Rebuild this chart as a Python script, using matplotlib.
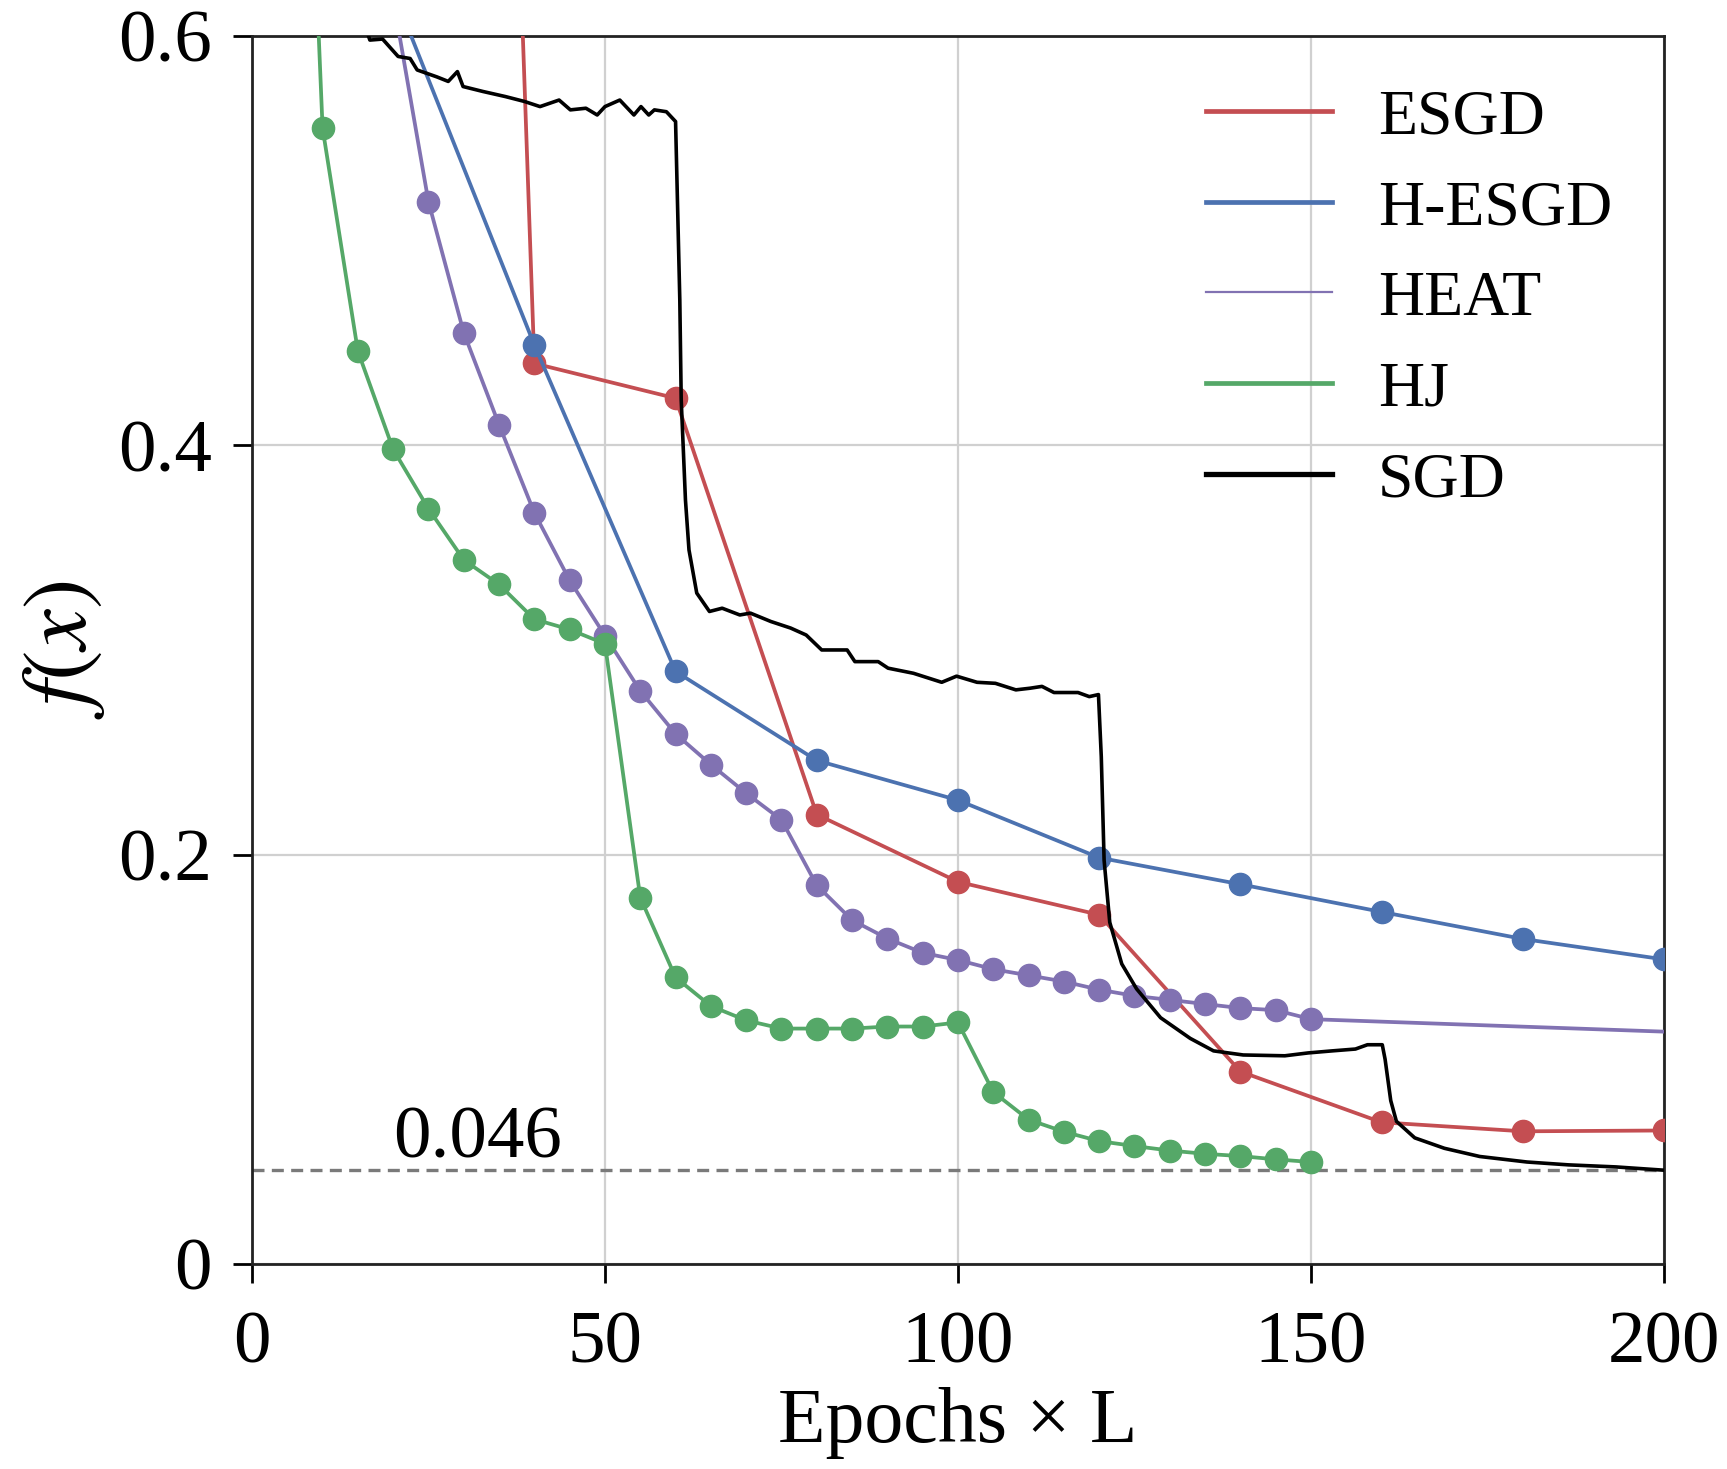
import matplotlib
matplotlib.use("Agg")
import matplotlib.pyplot as plt
from matplotlib.lines import Line2D

# ---- data ----
esgd_x = [20, 40, 60, 80, 100, 120, 140, 160, 180, 200]
esgd_y = [2.40, 0.440, 0.423, 0.2196, 0.1867, 0.1706, 0.0940, 0.0692, 0.0648, 0.0652]

hesgd_x = [20, 40, 60, 80, 100, 120, 140, 160, 180, 200]
hesgd_y = [0.622, 0.449, 0.2895, 0.246, 0.2266, 0.1985, 0.1855, 0.1720, 0.1588, 0.1488]

heat_x = [20, 25, 30, 35, 40, 45, 50, 55, 60, 65, 70, 75, 80, 85, 90, 95, 100,
          105, 110, 115, 120, 125, 130, 135, 140, 145, 150, 200]
heat_y = [0.618, 0.519, 0.455, 0.410, 0.367, 0.334, 0.307, 0.280, 0.259, 0.244,
          0.230, 0.217, 0.185, 0.168, 0.159, 0.152, 0.1485, 0.144, 0.141, 0.138,
          0.134, 0.131, 0.129, 0.127, 0.125, 0.124, 0.1196, 0.1135]

hj_x = [5, 10, 15, 20, 25, 30, 35, 40, 45, 50, 55, 60, 65, 70, 75, 80, 85, 90,
        95, 100, 105, 110, 115, 120, 125, 130, 135, 140, 145, 150]
hj_y = [0.97, 0.555, 0.446, 0.398, 0.369, 0.344, 0.332, 0.315, 0.310, 0.303,
        0.179, 0.140, 0.126, 0.119, 0.115, 0.115, 0.115, 0.116, 0.116, 0.118,
        0.084, 0.0705, 0.0646, 0.060, 0.0576, 0.0554, 0.0538, 0.0527, 0.0511, 0.0498]

sgd_x = [16.0, 16.7, 18.5, 20.7, 22.4, 23.4, 26.2, 27.8, 29.1, 29.9, 32.7, 35.9,
         38.6, 40.8, 43.5, 45.1, 47.3, 48.9, 50.0, 52.1, 54.1, 55.1, 56.2, 57.0,
         58.7, 60.0, 60.6, 60.8, 61.4, 61.9, 63.0, 64.8, 66.6, 69.1, 70.6, 73.5,
         76.3, 78.5, 80.7, 84.3, 85.4, 88.7, 90.1, 92.7, 93.7, 97.7, 99.8, 102.7,
         105.3, 108.2, 110.2, 111.9, 113.6, 117.0, 118.6, 119.9, 120.3, 120.7,
         121.5, 123.2, 125.3, 128.7, 132.9, 136.2, 140.4, 146.3, 149.6, 153.0,
         156.3, 158.0, 160.1, 160.5, 161.3, 162.1, 164.7, 168.9, 173.9, 180.6,
         186.5, 193.2, 200.0]
sgd_y = [0.605, 0.598, 0.5985, 0.590, 0.589, 0.5834, 0.580, 0.5778, 0.5826, 0.5753,
         0.5729, 0.5704, 0.568, 0.5655, 0.5687, 0.5639, 0.5647, 0.5614, 0.5655,
         0.5687, 0.5614, 0.5655, 0.5614, 0.5639, 0.563, 0.5582, 0.471, 0.4221,
         0.3733, 0.3489, 0.3278, 0.3188, 0.3204, 0.3171, 0.318, 0.3139, 0.3107,
         0.3073, 0.300, 0.300, 0.2943, 0.2943, 0.2911, 0.2893, 0.2886, 0.2842,
         0.2872, 0.2842, 0.2837, 0.2805, 0.2813, 0.2822, 0.2792, 0.2792, 0.2772,
         0.2782, 0.2478, 0.1972, 0.1669, 0.1466, 0.1344, 0.1203, 0.1102, 0.1041,
         0.1021, 0.1017, 0.1031, 0.1041, 0.105, 0.1071, 0.1071, 0.100, 0.0798,
         0.0697, 0.0616, 0.0565, 0.0525, 0.0498, 0.0484, 0.0474, 0.0458]

best = 0.046
names = ["ESGD", "H-ESGD", "HEAT", "HJ", "SGD"]
colors = ["#C44E52", "#4C72B0", "#8172B2", "#55A868", "black"]

plt.rcParams["font.family"] = ["Liberation Serif", "DejaVu Serif"]
plt.rcParams["mathtext.fontset"] = "stix"

fig = plt.figure(figsize=(17.27, 14.69), dpi=100)
ax = fig.add_axes([0.1459, 0.1396, 0.8176, 0.8359])

ax.axhline(best, color="#7a7a7a", lw=2.4, dashes=(3.6, 2.2), zorder=1)

lw, ms = 2.7, 16
ax.plot(esgd_x, esgd_y, color=colors[0], lw=lw, marker="o", ms=ms, zorder=3)
ax.plot(hesgd_x, hesgd_y, color=colors[1], lw=lw, marker="o", ms=ms, zorder=3)
ax.plot(heat_x, heat_y, color=colors[2], lw=lw, marker="o", ms=ms,
        markevery=list(range(len(heat_x) - 1)), zorder=3)
ax.plot(hj_x, hj_y, color=colors[3], lw=lw, marker="o", ms=ms, zorder=3)
ax.plot(sgd_x, sgd_y, color=colors[4], lw=2.6, zorder=4)

ax.text(20, 0.0518, "0.046", fontsize=54, ha="left", va="baseline")

ax.set_xlim(0, 200)
ax.set_ylim(0, 0.6)
ax.set_xticks([0, 50, 100, 150, 200])
ax.set_yticks([0, 0.2, 0.4, 0.6])
ax.set_yticklabels(["0", "0.2", "0.4", "0.6"])
ax.grid(True, color="#d0d0d0", lw=1.6)
ax.set_axisbelow(True)
for s in ax.spines.values():
    s.set_linewidth(2)
    s.set_color("#222222")
ax.tick_params(axis="x", labelsize=54, length=14, width=2, pad=20)
ax.tick_params(axis="y", labelsize=54, length=14, width=2, pad=15)

ax.set_xlabel("Epochs \u00d7 L", fontsize=56, labelpad=6)
ax.set_ylabel("$f(x)$", fontsize=66, labelpad=8)

# legend: lines only, no markers
handles = [Line2D([], [], color=colors[0], lw=3.4),
           Line2D([], [], color=colors[1], lw=3.4),
           Line2D([], [], color=colors[2], lw=1.6),
           Line2D([], [], color=colors[3], lw=3.4),
           Line2D([], [], color=colors[4], lw=3.8)]
ax.legend(handles, names, loc="upper left", bbox_to_anchor=(0.6756, 0.957),
          frameon=False, fontsize=46, handlelength=1.97, handletextpad=0.72,
          labelspacing=0.5, borderpad=0, borderaxespad=0)

fig.savefig("out.png", dpi=100)
